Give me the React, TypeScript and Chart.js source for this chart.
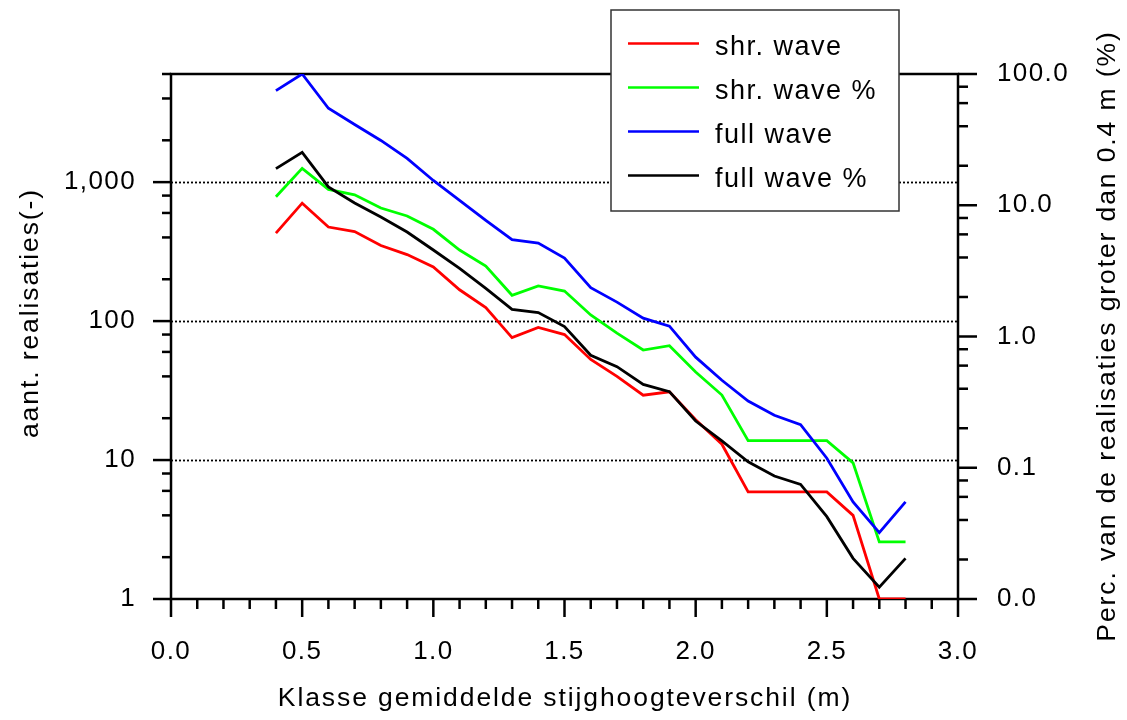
import React, { useEffect, useRef } from 'react';
import { Chart, registerables } from 'chart.js';

Chart.register(...registerables);

// ---- data ----
const classes = [0.4, 0.5, 0.6, 0.7, 0.8, 0.9, 1.0, 1.1, 1.2, 1.3, 1.4, 1.5, 1.6, 1.7, 1.8, 1.9, 2.0, 2.1, 2.2, 2.3, 2.4, 2.5, 2.6, 2.7, 2.8];

// counts (left axis)
const shrWave = [430, 706, 475, 441, 350, 301, 245, 168, 125, 76, 90, 80, 53, 40, 29.3, 31, 19.5, 13, 5.9, 5.9, 5.9, 5.9, 4.0, 1, 1];
const fullWave = [4560, 6000, 3400, 2600, 1995, 1480, 1028, 739, 531, 385, 364, 284, 174, 137, 105, 92, 55, 37.5, 26.6, 21, 18, 10.3, 5.0, 3.0, 5.0];

// percentages (right axis)
const shrWavePct = [11.6, 19.1, 13.2, 12.0, 9.53, 8.28, 6.56, 4.56, 3.44, 2.06, 2.43, 2.22, 1.46, 1.06, 0.789, 0.851, 0.537, 0.358, 0.161, 0.161, 0.161, 0.161, 0.109, 0.0272, 0.0272];
const fullWavePct = [19.0, 25.3, 13.8, 10.4, 8.13, 6.25, 4.56, 3.31, 2.33, 1.61, 1.52, 1.19, 0.719, 0.589, 0.432, 0.38, 0.227, 0.16, 0.111, 0.0865, 0.0747, 0.0424, 0.0204, 0.0123, 0.0204];

const seriesLabels = ['shr. wave', 'shr. wave %', 'full wave', 'full wave %'];
const seriesColors = ['#ff0000', '#00ff00', '#0000ff', '#000000'];

const xTickValues = [0, 0.5, 1.0, 1.5, 2.0, 2.5, 3.0];
const leftTickValues = [1, 10, 100, 1000];
const rightTickValues = [0.01, 0.1, 1, 10, 100];
const leftGridValues = [10, 100, 1000];

const xTitle = 'Klasse gemiddelde stijghoogteverschil (m)';
const yTitle = 'aant. realisaties(-)';
const y1Title = 'Perc. van de realisaties groter dan 0.4 m (%)';

const FONT = "'Liberation Sans', Arial, Helvetica, sans-serif";

function logMinorTicks(min: number, max: number): number[] {
  const out: number[] = [];
  for (let e = Math.floor(Math.log10(min)); e <= Math.ceil(Math.log10(max)); e++) {
    const base = Math.pow(10, e);
    for (const m of [2, 4, 6, 8]) {
      const v = m * base;
      if (v >= min * 0.999 && v <= max * 1.001) out.push(v);
    }
  }
  return out;
}

const framePlugin = {
  id: 'frame',
  beforeDraw(chart: any) {
    chart.ctx.letterSpacing = '1.4px';
  },
  beforeDatasetsDraw(chart: any) {
    const ctx = chart.ctx;
    const { left, right, top, bottom } = chart.chartArea;
    const xs = chart.scales.x;
    const ys = chart.scales.y;
    const y1 = chart.scales.y1;
    ctx.save();
    // dotted grid lines
    ctx.strokeStyle = '#000';
    ctx.lineWidth = 1.8;
    ctx.setLineDash([2, 2]);
    for (const v of leftGridValues) {
      const y = Math.round(ys.getPixelForValue(v)) + 0.5;
      ctx.beginPath();
      ctx.moveTo(left, y);
      ctx.lineTo(right, y);
      ctx.stroke();
    }
    // frame and ticks (drawn under the data lines)
    ctx.lineWidth = 2.5;
    ctx.setLineDash([]);
    ctx.lineCap = 'butt';
    ctx.strokeRect(left, top, right - left, bottom - top);
    const seg = (x0: number, y0: number, x1: number, y1p: number) => {
      ctx.beginPath();
      ctx.moveTo(x0, y0);
      ctx.lineTo(x1, y1p);
      ctx.stroke();
    };
    for (const v of leftTickValues) {
      const y = ys.getPixelForValue(v);
      seg(left - 18, y, left, y);
    }
    for (const v of logMinorTicks(1, 6000)) {
      const y = ys.getPixelForValue(v);
      seg(left - 9, y, left, y);
    }
    for (const v of rightTickValues) {
      const y = y1.getPixelForValue(v);
      seg(right, y, right + 19, y);
    }
    for (const v of logMinorTicks(0.01, 100)) {
      const y = y1.getPixelForValue(v);
      seg(right, y, right + 10, y);
    }
    for (let i = 0; i <= 30; i++) {
      const v = i / 10;
      const x = xs.getPixelForValue(v);
      const major = i % 5 === 0;
      seg(x, bottom, x, bottom + (major ? 18 : 10));
    }
    ctx.restore();
  },
  afterDraw(chart: any) {
    const ctx = chart.ctx;
    ctx.save();
    ctx.letterSpacing = '1.9px';
    ctx.fillStyle = '#000';
    ctx.font = `26.5px ${FONT}`;
    ctx.textAlign = 'center';
    ctx.textBaseline = 'middle';
    ctx.fillText(xTitle, 565, 699);
    ctx.save();
    ctx.translate(31, 313);
    ctx.rotate(-Math.PI / 2);
    ctx.fillText(yTitle, 0, 0);
    ctx.restore();
    ctx.save();
    ctx.translate(1108, 336);
    ctx.rotate(-Math.PI / 2);
    ctx.fillText(y1Title, 0, 0);
    ctx.restore();

    // legend
    const bx = 611, by = 10, bw = 288, bh = 201;
    ctx.fillStyle = '#fff';
    ctx.fillRect(bx, by, bw, bh);
    ctx.strokeStyle = '#333';
    ctx.lineWidth = 1.5;
    ctx.strokeRect(bx, by, bw, bh);
    ctx.letterSpacing = '1.5px';
    ctx.font = `27px ${FONT}`;
    const rowsY = [43.5, 87.5, 131.5, 175.5];
    chart.data.datasets.forEach((ds: any, i: number) => {
      const ly = rowsY[i];
      ctx.strokeStyle = ds.borderColor;
      ctx.lineWidth = 2.5;
      ctx.beginPath();
      ctx.moveTo(628, ly);
      ctx.lineTo(699, ly);
      ctx.stroke();
      ctx.fillStyle = '#000';
      ctx.textAlign = 'left';
      ctx.textBaseline = 'alphabetic';
      ctx.fillText(ds.label, 715, ly + 11);
    });
    ctx.restore();
  },
};

export default function App() {
  const ref = useRef<HTMLCanvasElement | null>(null);

  useEffect(() => {
    if (!ref.current) return;
    const values = [shrWave, shrWavePct, fullWave, fullWavePct];
    const axes = ['y', 'y1', 'y', 'y1'];
    const orders = [4, 3, 2, 1];
    const tickFont = { family: FONT, size: 26 };
    const chart = new Chart(ref.current, {
      type: 'line',
      data: {
        datasets: seriesLabels.map((label, i) => ({
          label,
          data: classes.map((x, j) => ({ x, y: values[i][j] })),
          yAxisID: axes[i],
          borderColor: seriesColors[i],
          backgroundColor: seriesColors[i],
          borderWidth: 2.8,
          pointRadius: 0,
          tension: 0,
          fill: false,
          order: orders[i],
        })),
      },
      options: {
        responsive: false,
        animation: false,
        layout: { padding: { top: 74, left: 0, right: 0, bottom: 0 } },
        plugins: { legend: { display: false }, tooltip: { enabled: false } },
        scales: {
          x: {
            type: 'linear',
            position: 'bottom',
            min: 0,
            max: 3,
            afterBuildTicks: (s: any) => {
              s.ticks = xTickValues.map((v) => ({ value: v }));
            },
            afterFit: (s: any) => {
              s.height = 121;
            },
            ticks: {
              autoSkip: false,
              maxRotation: 0,
              padding: 37,
              color: '#000',
              font: tickFont,
              callback: (v: any) => Number(v).toFixed(1),
            },
            grid: { display: false, drawTicks: false },
            border: { display: false },
          },
          y: {
            type: 'logarithmic',
            position: 'left',
            min: 1,
            max: 6000,
            afterBuildTicks: (s: any) => {
              s.ticks = leftTickValues.map((v) => ({ value: v }));
            },
            afterFit: (s: any) => {
              s.width = 171;
            },
            ticks: {
              autoSkip: false,
              padding: 35,
              color: '#000',
              font: tickFont,
              callback: (v: any) => Number(v).toLocaleString('en-US'),
            },
            grid: { display: false, drawTicks: false },
            border: { display: false },
          },
          y1: {
            type: 'logarithmic',
            position: 'right',
            min: 0.01,
            max: 100,
            afterBuildTicks: (s: any) => {
              s.ticks = rightTickValues.map((v) => ({ value: v }));
            },
            afterFit: (s: any) => {
              s.width = 169;
            },
            ticks: {
              autoSkip: false,
              padding: 39,
              color: '#000',
              font: tickFont,
              callback: (v: any) => Number(v).toFixed(1),
            },
            grid: { display: false, drawTicks: false },
            border: { display: false },
          },
        },
      } as any,
      plugins: [framePlugin],
    });
    return () => chart.destroy();
  }, []);

  return (
    <div style={{ position: 'fixed', left: 0, top: 0, width: 1127, height: 720, background: '#fff' }}>
      <canvas ref={ref} width={1127} height={720} style={{ display: 'block' }} />
    </div>
  );
}
